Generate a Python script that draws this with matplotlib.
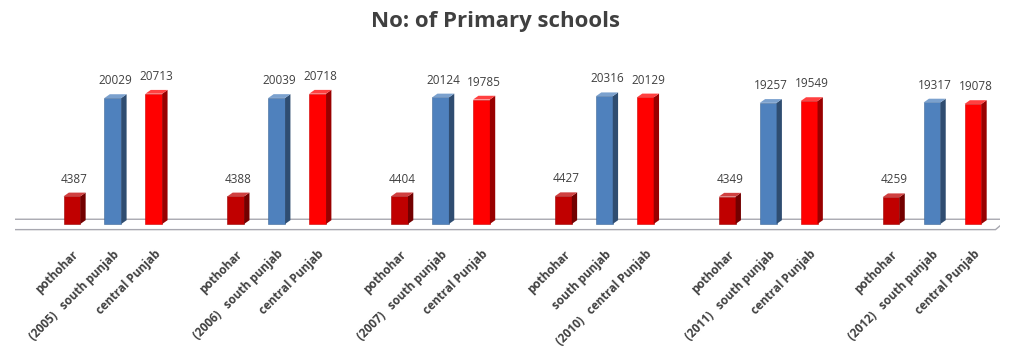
import matplotlib
matplotlib.use('Agg')
import matplotlib.pyplot as plt
from matplotlib.patches import Polygon
from matplotlib.colors import to_rgb

# values
years = ['2005', '2006', '2007', '2010', '2011', '2012']
regions = ['pothohar', 'south punjab', 'central Punjab']
pothohar = [4387, 4388, 4404, 4427, 4349, 4259]
south_punjab = [20029, 20039, 20124, 20316, 19257, 19317]
central_punjab = [20713, 20718, 19785, 20129, 19549, 19078]
# which region's label carries the year in each group
year_on = [1, 1, 1, 2, 1, 1]

series = [pothohar, south_punjab, central_punjab]
colors = ['#C00000', '#4F81BD', '#FF0000']

plt.rcParams['font.family'] = ['Open Sans', 'DejaVu Sans']

fig = plt.figure(figsize=(10.12, 3.52), dpi=100)
ax = fig.add_axes([15 / 1012, 0.328, 985 / 1012, 0.536])

w = 0.41
dx = 0.13
dy = 600


def shade(c, f):
    r, g, b = to_rgb(c)
    if f < 1:
        return (r * f, g * f, b * f)
    return (r + (1 - r) * (f - 1), g + (1 - g) * (f - 1), b + (1 - b) * (f - 1))


# floor slab
xl, xr = -1.5, 22.55
floor = Polygon([(xl, -900), (xr, -900), (xr + 0.3, 750), (xl, 750)],
                closed=True, facecolor='white', edgecolor='#A8A8B0', lw=1.0, zorder=1)
ax.add_patch(floor)

positions = []
labels = []
for g, yr in enumerate(years):
    for j, reg in enumerate(regions):
        c = g * 4 + j
        v = series[j][g]
        col = colors[j]
        positions.append(c)
        if j == year_on[g]:
            labels.append('(' + yr + ')   ' + reg)
        else:
            labels.append(reg)
        ax.bar(c, v, w, color=col, zorder=3, edgecolor=shade(col, 0.8), lw=0.4)
        side = Polygon([(c + w / 2, 0), (c + w / 2 + dx, dy), (c + w / 2 + dx, v + dy), (c + w / 2, v)],
                       closed=True, facecolor=shade(col, 0.6), edgecolor='none', zorder=3)
        top = Polygon([(c - w / 2, v), (c - w / 2 + dx, v + dy), (c + w / 2 + dx, v + dy), (c + w / 2, v)],
                      closed=True, facecolor=shade(col, 1.25), edgecolor='none', zorder=3)
        ax.add_patch(side)
        ax.add_patch(top)
        ax.annotate(str(v), (c + dx / 2, v + dy), xytext=(0, 5), textcoords='offset points',
                    ha='center', va='bottom', fontsize=8.5, color='#404040')

ax.set_xlim(-1.39, 22.66)
ax.set_ylim(-2000, 28000)
ax.set_xticks(positions)
ax.set_xticklabels(labels, rotation=45, ha='right', va='top', rotation_mode='anchor',
                   fontsize=8.5, fontweight='bold', color='#404040')
ax.tick_params(axis='x', length=0, pad=8)
ax.set_yticks([])
for s in ax.spines.values():
    s.set_visible(False)

fig.text(0.49, 0.94, 'No: of Primary schools', ha='center', va='center',
         fontsize=16, fontweight='bold', color='#404040')

fig.savefig('out.png', dpi=100)
